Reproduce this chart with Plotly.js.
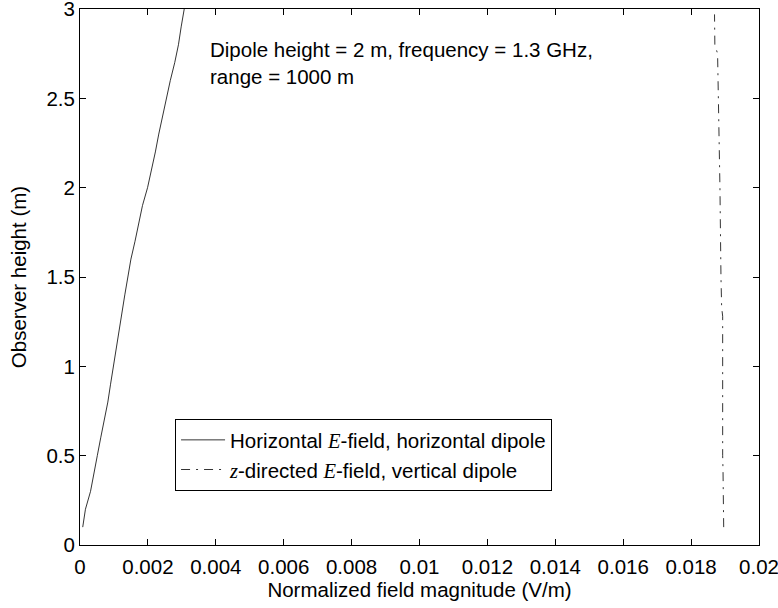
<!DOCTYPE html>
<html>
<head>
<meta charset="utf-8">
<script src="https://cdn.plot.ly/plotly-3.0.1.min.js"></script>
<style>html,body{margin:0;padding:0;background:#fff;}#chart{width:778px;height:608px;}</style>
</head>
<body>
<div id="chart"></div>
<script>
// Observer heights (m)
var heightsH = [0.1,0.2,0.3,0.4,0.5,0.6,0.7,0.8,0.9,1.0,1.1,1.2,1.3,1.4,1.5,1.6,1.7,1.8,1.9,2.0,2.1,2.2,2.3,2.4,2.5,2.6,2.7,2.8,2.9,3.0];
// Horizontal E-field, horizontal dipole (V/m)
var fieldH = [0.00008,0.00016,0.00031,0.00042,0.00051,0.00061,0.00072,0.00082,0.00090,0.00098,0.00107,0.00115,0.00123,0.00132,0.00141,0.00150,0.00162,0.00173,0.00184,0.00199,0.00211,0.00222,0.00232,0.00243,0.00254,0.00266,0.00279,0.00290,0.00298,0.00307];
// z-directed E-field, vertical dipole
var heightsV = [0.1,0.38,0.42,0.5,1.0,1.28,1.33,1.5,2.0,2.5,2.75,2.8,2.97];
var fieldV = [0.01896,0.01896,0.01894,0.01893,0.01893,0.01893,0.01890,0.01888,0.01885,0.01880,0.01878,0.01870,0.01869];

var xTicks = [0,0.002,0.004,0.006,0.008,0.01,0.012,0.014,0.016,0.018,0.02];
var xTickLabels = ['0','0.002','0.004','0.006','0.008','0.01','0.012','0.014','0.016','0.018','0.02'];
var yTicks = [0,0.5,1,1.5,2,2.5,3];
var yTickLabels = ['0','0.5','1','1.5','2','2.5','3'];

var serifE = '<span style="font-family:\'Liberation Serif\';font-style:italic">E</span>';
var serifZ = '<span style="font-family:\'Liberation Serif\';font-style:italic">z</span>';

var traces = [
  {x: fieldH, y: heightsH, mode: 'lines', type: 'scatter',
   name: 'Horizontal ' + serifE + '-field, horizontal dipole',
   line: {color: '#000', width: 0.8}},
  {x: fieldV, y: heightsV, mode: 'lines', type: 'scatter',
   name: serifZ + '-directed ' + serifE + '-field, vertical dipole',
   line: {color: '#000', width: 0.8, dash: '9px,6px,2px,6px'}}
];

var font = {family: '"Liberation Sans", Arial, sans-serif', size: 20.5, color: '#000'};

var layout = {
  width: 778, height: 608,
  margin: {l: 80, r: 19, t: 9, b: 63, pad: 0},
  paper_bgcolor: '#fff', plot_bgcolor: '#fff',
  font: font,
  showlegend: true,
  legend: {x: 0.14, y: 0.235, xanchor: 'left', yanchor: 'top',
    bordercolor: '#000', borderwidth: 1, bgcolor: '#fff',
    font: font, tracegroupgap: 0, itemwidth: 44},
  xaxis: {range: [0, 0.0200001], tickvals: xTicks, ticktext: xTickLabels,
    ticks: 'inside', ticklen: 6, tickcolor: '#000', tickwidth: 1,
    showline: true, linecolor: '#000', linewidth: 1, mirror: 'ticks',
    showgrid: false, zeroline: false, ticklabelstandoff: 3, ticklabeloverflow: 'allow',
    title: {text: 'Normalized field magnitude (V/m)', font: font, standoff: 4}},
  yaxis: {range: [0, 3.0001], tickvals: yTicks, ticktext: yTickLabels,
    ticks: 'inside', ticklen: 6, tickcolor: '#000', tickwidth: 1,
    showline: true, linecolor: '#000', linewidth: 1, mirror: 'ticks',
    showgrid: false, zeroline: false, ticklabeloverflow: 'allow',
    title: {text: 'Observer height (m)', font: font, standoff: 14}},
  annotations: [{
    xref: 'paper', yref: 'paper', x: 0.1885, y: 0.95, xanchor: 'left', yanchor: 'top',
    text: 'Dipole height = 2 m, frequency = 1.3 GHz,<br>range = 1000 m',
    showarrow: false, align: 'left', font: font
  }]
};

Plotly.newPlot('chart', traces, layout, {displayModeBar: false, staticPlot: true});
</script>
</body>
</html>
